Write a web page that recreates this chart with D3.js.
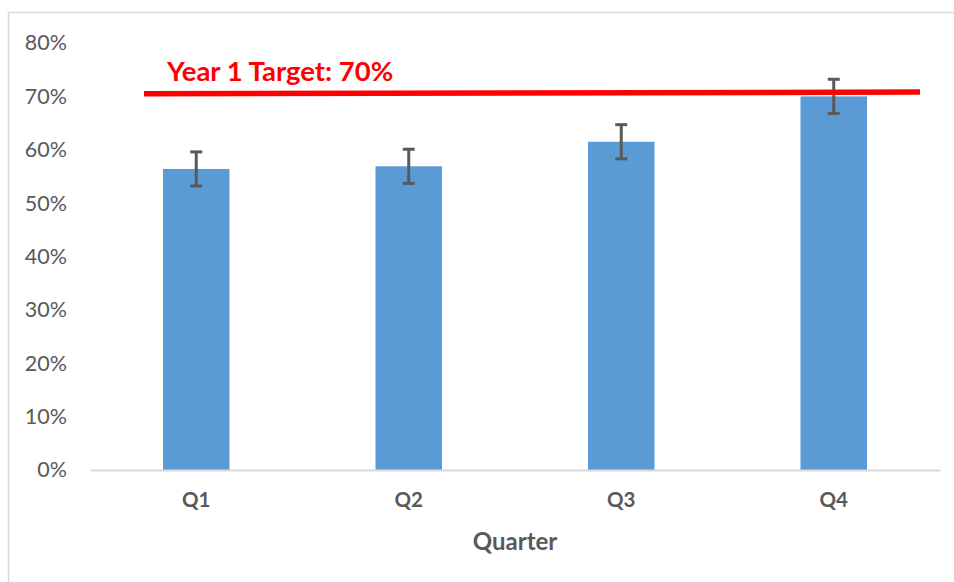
<!DOCTYPE html>
<html>
<head>
<meta charset="utf-8">
<script src="https://cdn.jsdelivr.net/npm/d3@7"></script>
<style>
	body { margin: 0; background: #fff; }
	svg { display: block; font-family: Lato, "Open Sans", sans-serif; }
</style>
</head>
<body>
<svg id="chart" width="954" height="582"></svg>
<script>
// values
const quarters = ['Q1', 'Q2', 'Q3', 'Q4'];
const rates = [0.564, 0.569, 0.615, 0.700];
const errors = [0.032, 0.032, 0.032, 0.032];
const yTicks = [0, 0.1, 0.2, 0.3, 0.4, 0.5, 0.6, 0.7, 0.8];
const targetLabel = 'Year 1 Target: 70%';
const targetLine = [0.705, 0.708]; // drawn slightly above 70%, left -> right

let svg = d3.select('#chart'),
	margin = { top: 43, right: 14, bottom: 112, left: 90 },
	width = +svg.attr('width') - margin.left - margin.right,
	height = +svg.attr('height') - margin.top - margin.bottom;

// outer chart border (runs off the right and bottom edges)
svg.append('rect')
	.attr('x', 8.5).attr('y', 12.5)
	.attr('width', 960).attr('height', 600)
	.attr('fill', 'none')
	.attr('stroke', '#d9d9d9')
	.attr('stroke-width', 1.5);

let x = d3.scaleBand().domain(quarters).range([0, width]).paddingInner(0.687).paddingOuter(0.3435),
	y = d3.scaleLinear().domain([0, 0.8]).range([height, 0]);

let g = svg.append('g')
	.attr('transform', 'translate(' + margin.left + ',' + margin.top + ')');

// y axis labels only
let yAxis = g.append('g')
	.call(d3.axisLeft(y).tickValues(yTicks).tickFormat(d3.format('.0%')).tickSize(0).tickPadding(23));
yAxis.select('.domain').remove();
yAxis.selectAll('text')
	.attr('fill', '#595959')
	.attr('font-size', 21.5)
	.attr('font-family', 'Lato, "Open Sans", sans-serif');

// bars
g.selectAll('.bar')
	.data(quarters)
	.enter().append('rect')
	.attr('class', 'bar')
	.attr('x', d => x(d))
	.attr('y', (d, i) => y(rates[i]))
	.attr('width', x.bandwidth())
	.attr('height', (d, i) => height - y(rates[i]))
	.attr('fill', '#5b9bd5');

// x axis
let xAxis = g.append('g')
	.attr('transform', 'translate(0,' + height + ')')
	.call(d3.axisBottom(x).tickSize(0).tickPadding(22));
xAxis.select('.domain').attr('stroke', '#d9d9d9').attr('stroke-width', 2);
xAxis.selectAll('text')
	.attr('fill', '#595959')
	.attr('font-size', 20.5)
	.attr('font-weight', 'bold')
	.attr('font-family', 'Lato, "Open Sans", sans-serif');

g.append('text')
	.attr('x', width / 2)
	.attr('y', height + 80)
	.attr('text-anchor', 'middle')
	.attr('fill', '#595959')
	.attr('font-size', 24)
	.attr('font-weight', 'bold')
	.text('Quarter');

// error bars
let err = g.selectAll('.err')
	.data(quarters)
	.enter().append('g')
	.attr('class', 'err')
	.attr('stroke', '#595959')
	.attr('stroke-width', 3);
let cx = d => x(d) + x.bandwidth() / 2;
err.append('line')
	.attr('x1', cx).attr('x2', cx)
	.attr('y1', (d, i) => y(rates[i] + errors[i]))
	.attr('y2', (d, i) => y(rates[i] - errors[i]));
err.append('line')
	.attr('x1', d => cx(d) - 6).attr('x2', d => cx(d) + 6)
	.attr('y1', (d, i) => y(rates[i] + errors[i]))
	.attr('y2', (d, i) => y(rates[i] + errors[i]));
err.append('line')
	.attr('x1', d => cx(d) - 6).attr('x2', d => cx(d) + 6)
	.attr('y1', (d, i) => y(rates[i] - errors[i]))
	.attr('y2', (d, i) => y(rates[i] - errors[i]));

// target line + label
g.append('line')
	.attr('x1', 54).attr('x2', 830)
	.attr('y1', y(targetLine[0]))
	.attr('y2', y(targetLine[1]))
	.attr('stroke', '#ff0000')
	.attr('stroke-width', 5.5);

g.append('text')
	.attr('x', 77)
	.attr('y', y(targetLine[0]) - 13)
	.attr('fill', '#ff0000')
	.attr('font-size', 27.5)
	.attr('font-weight', 'bold')
	.text(targetLabel);
</script>
</body>
</html>
